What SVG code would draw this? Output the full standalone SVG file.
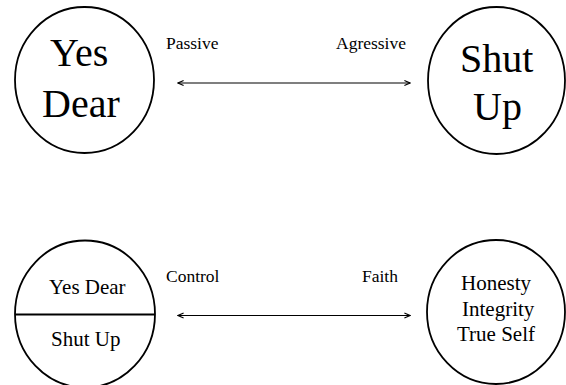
<svg xmlns="http://www.w3.org/2000/svg" width="566" height="385" viewBox="0 0 566 385">
<defs>
<marker id="ah" viewBox="0 0 10 10" refX="9" refY="5" markerWidth="7" markerHeight="7" markerUnits="userSpaceOnUse" orient="auto-start-reverse">
<path d="M1,1.5 L9,5 L1,8.5" fill="none" stroke="#000" stroke-width="1.6"/>
</marker>
</defs>
<rect width="566" height="385" fill="#fff"/>
<g id="yes-dear">
<ellipse fill="none" stroke="#000" stroke-width="1.8" cx="84.5" cy="80" rx="69.5" ry="73"/>
<text font-family="Times New Roman" font-size="40" x="50" y="66">Yes</text>
<text font-family="Times New Roman" font-size="40" x="42" y="117">Dear</text>
</g>
<g id="shut-up">
<ellipse fill="none" stroke="#000" stroke-width="1.8" cx="496.5" cy="80.5" rx="68.5" ry="73.5"/>
<text font-family="Times New Roman" font-size="40" x="460" y="72">Shut</text>
<text font-family="Times New Roman" font-size="40" x="473" y="119.5">Up</text>
</g>
<g id="combined">
<ellipse fill="none" stroke="#000" stroke-width="1.8" cx="85" cy="314" rx="70" ry="73.5"/>
<line stroke="#000" stroke-width="1.8" x1="15" y1="314.5" x2="155" y2="314.5"/>
<text font-family="Times New Roman" font-size="21" x="49" y="294">Yes Dear</text>
<text font-family="Times New Roman" font-size="21" x="51" y="346">Shut Up</text>
</g>
<g id="true-self">
<ellipse fill="none" stroke="#000" stroke-width="1.8" cx="496" cy="312" rx="69" ry="72"/>
<text font-family="Times New Roman" font-size="21" x="461" y="290">Honesty</text>
<text font-family="Times New Roman" font-size="21" x="462" y="315.5">Integrity</text>
<text font-family="Times New Roman" font-size="21" x="457" y="341">True Self</text>
</g>
<g id="connectors">
<line stroke="#000" stroke-width="1.2" x1="178" y1="83" x2="410" y2="83" marker-start="url(#ah)" marker-end="url(#ah)"/>
<line stroke="#000" stroke-width="1.2" x1="178" y1="315.5" x2="410" y2="315.5" marker-start="url(#ah)" marker-end="url(#ah)"/>
</g>
<g id="labels">
<text font-family="Times New Roman" font-size="17.5" x="166" y="49">Passive</text>
<text font-family="Times New Roman" font-size="17.5" x="336" y="49">Agressive</text>
<text font-family="Times New Roman" font-size="17.5" x="166" y="282">Control</text>
<text font-family="Times New Roman" font-size="17.5" x="362" y="282">Faith</text>
</g>
</svg>
